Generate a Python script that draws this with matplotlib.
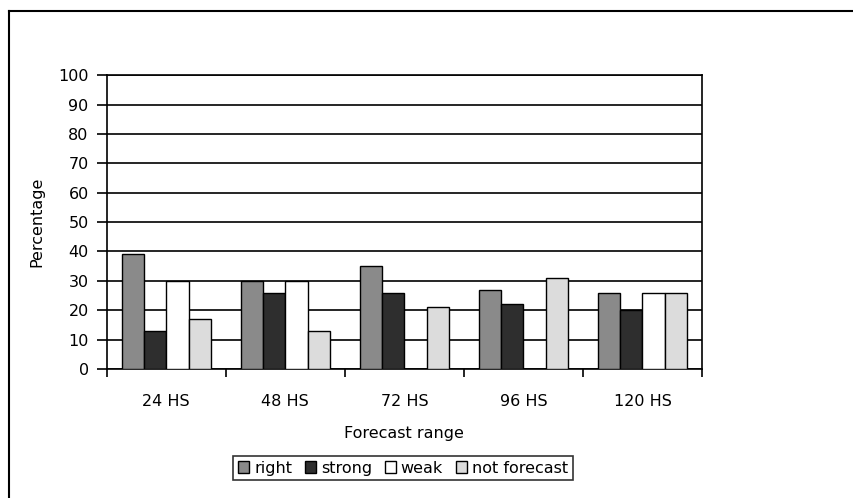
import matplotlib.pyplot as plt
import numpy as np
from matplotlib.lines import Line2D

categories = ['24 HS', '48 HS', '72 HS', '96 HS', '120 HS']
right = [39, 30, 35, 27, 26]
strong = [13, 26, 26, 22, 20]
weak = [30, 30, 0, 0, 26]
not_forecast = [17, 13, 21, 31, 26]

series = [('right', right, '#8a8a8a'),
          ('strong', strong, '#2e2e2e'),
          ('weak', weak, '#ffffff'),
          ('not forecast', not_forecast, '#dcdcdc')]

fig = plt.figure(figsize=(8.54, 4.98), dpi=100)
ax = fig.add_axes([0.125, 0.259, 0.697, 0.59])

x = np.arange(len(categories))
w = 0.187
for i, (name, vals, col) in enumerate(series):
    ax.bar(x + (i - 1.5) * w, vals, w, color=col, edgecolor='black',
           linewidth=1.0, label=name, zorder=3)

ax.set_ylim(0, 100)
ax.set_xlim(-0.5, len(categories) - 0.5)
ax.set_yticks(range(0, 101, 10))
ax.yaxis.grid(True, color='black', linewidth=1.2, zorder=0)
ax.set_axisbelow(True)

ax.set_xticks(x)
ax.set_xticklabels(categories, fontsize=11.5)
ax.tick_params(axis='x', length=0, pad=18)
ax.set_xticks(np.arange(-0.5, len(categories)), minor=True)
ax.tick_params(axis='x', which='minor', length=6, direction='out', width=1.2)
ax.tick_params(axis='y', length=7, direction='out', width=1.2,
               labelsize=11.5, pad=6)
for s in ax.spines.values():
    s.set_linewidth(1.2)
    s.set_color('black')

ax.set_ylabel('Percentage', fontsize=11.5, labelpad=10)
ax.set_xlabel('Forecast range', fontsize=11.5, labelpad=12)

leg = fig.legend(loc='center', bbox_to_anchor=(0.472, 0.06), ncol=4,
                 fontsize=11.5, frameon=True, fancybox=False, edgecolor='black',
                 handlelength=0.7, handleheight=0.7, handletextpad=0.3,
                 columnspacing=0.8, borderpad=0.3)
leg.get_frame().set_linewidth(1.2)

# outer chart border (top and left visible)
fig.add_artist(Line2D([0.011, 1.0], [0.978, 0.978], color='black', lw=1.5,
                      transform=fig.transFigure))
fig.add_artist(Line2D([0.011, 0.011], [0.0, 0.978], color='black', lw=1.5,
                      transform=fig.transFigure))

plt.savefig('out.png', dpi=100)
